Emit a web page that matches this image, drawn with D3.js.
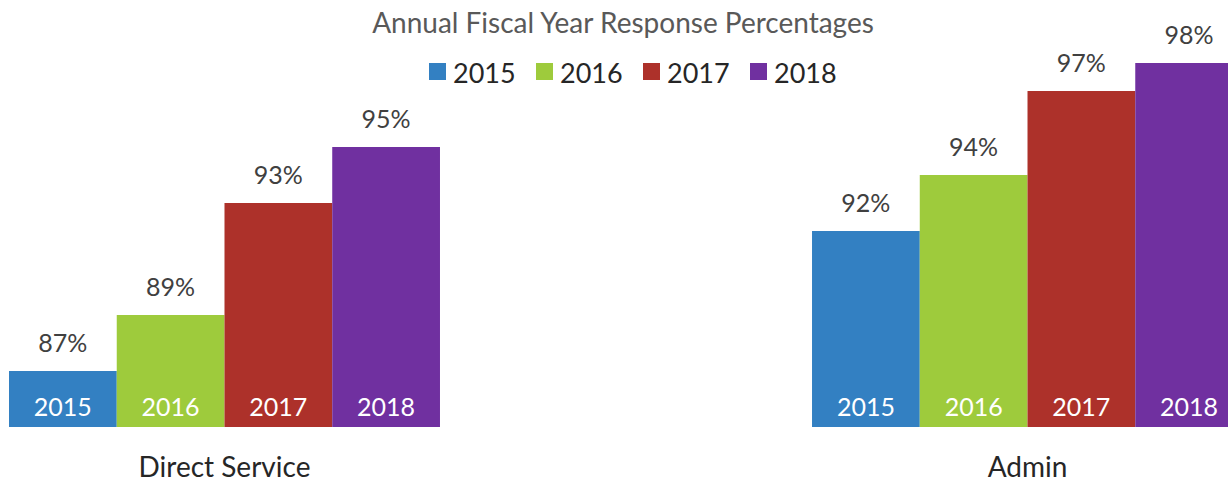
<!DOCTYPE html>
<html>
<head>
<meta charset="utf-8">
<script src="https://cdn.jsdelivr.net/npm/d3@7"></script>
<style>
  body { margin: 0; background: #fff; }
  svg text { font-family: Lato, "Open Sans", sans-serif; }
</style>
</head>
<body>
<svg id="chart" width="1228" height="482"></svg>
<script>
var categories = ['Direct Service', 'Admin'];
var years = ['2015', '2016', '2017', '2018'];
var directValues = [87, 89, 93, 95];
var adminValues = [92, 94, 97, 98];
var colors = ['#3380c2', '#9ecb3c', '#ad312a', '#7030a0'];

var svg = d3.select('#chart');
var seriesByCat = { 'Direct Service': directValues, 'Admin': adminValues };

var x0 = d3.scaleBand()
  .domain(categories)
  .range([9, 1243])
  .paddingInner(0.4633)
  .paddingOuter(0);

var x1 = d3.scaleBand()
  .domain(years)
  .range([0, x0.bandwidth()])
  .padding(0);

var y = d3.scaleLinear().domain([85, 100]).range([427, 7]);
var color = d3.scaleOrdinal().domain(years).range(colors);

// title
svg.append('text')
  .attr('x', 623).attr('y', 33)
  .attr('text-anchor', 'middle')
  .style('font-size', '28px')
  .style('fill', '#595959')
  .text('Annual Fiscal Year Response Percentages');

// legend
var legend = svg.append('g').selectAll('g')
  .data(years)
  .enter().append('g')
  .attr('transform', function(d, i) { return 'translate(' + (429 + i * 107) + ',0)'; });
legend.append('rect')
  .attr('x', 0).attr('y', 63)
  .attr('width', 17).attr('height', 17)
  .style('fill', function(d) { return color(d); });
legend.append('text')
  .attr('x', 24).attr('y', 83)
  .style('font-size', '27px')
  .style('fill', '#262626')
  .text(function(d) { return d; });

var groups = svg.append('g').selectAll('g')
  .data(categories)
  .enter().append('g')
  .attr('transform', function(d) { return 'translate(' + x0(d) + ',0)'; });

var bars = groups.selectAll('g')
  .data(function(cat) {
    return years.map(function(yr, i) { return { year: yr, value: seriesByCat[cat][i] }; });
  })
  .enter().append('g');

bars.append('rect')
  .attr('x', function(d) { return x1(d.year); })
  .attr('y', function(d) { return y(d.value); })
  .attr('width', x1.bandwidth())
  .attr('height', function(d) { return y(85) - y(d.value); })
  .style('fill', function(d) { return color(d.year); });

// value labels above bars
bars.append('text')
  .attr('x', function(d) { return x1(d.year) + x1.bandwidth() / 2; })
  .attr('y', function(d) { return y(d.value) - 19; })
  .attr('text-anchor', 'middle')
  .style('font-size', '25px')
  .style('fill', '#404040')
  .text(function(d) { return d.value + '%'; });

// year labels inside bars
bars.append('text')
  .attr('x', function(d) { return x1(d.year) + x1.bandwidth() / 2; })
  .attr('y', 416)
  .attr('text-anchor', 'middle')
  .style('font-size', '25px')
  .style('fill', '#fff')
  .text(function(d) { return d.year; });

// category labels
groups.append('text')
  .attr('x', x0.bandwidth() / 2)
  .attr('y', 477)
  .attr('text-anchor', 'middle')
  .style('font-size', '28px')
  .style('fill', '#262626')
  .text(function(d) { return d; });
</script>
</body>
</html>
